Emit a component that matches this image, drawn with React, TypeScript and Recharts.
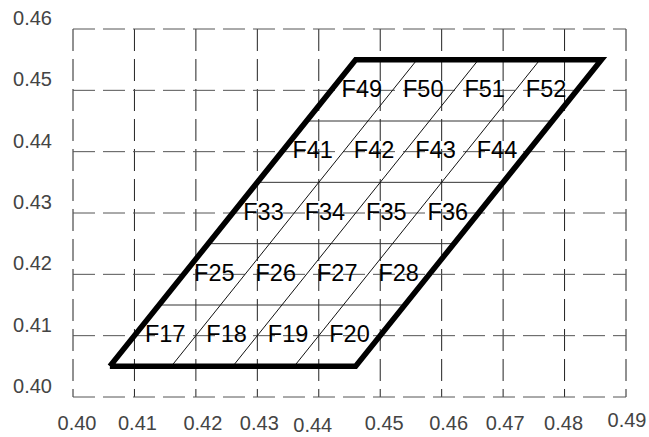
import React from "react";
import { CartesianGrid, ComposedChart, Line, Scatter, XAxis, YAxis } from "recharts";

const xTicks = [0.4, 0.41, 0.42, 0.43, 0.44, 0.45, 0.46, 0.47, 0.48, 0.49];
const yTicks = [0.4, 0.41, 0.42, 0.43, 0.44, 0.45, 0.46];

// mesh outline (closed)
const outline = [
  { x: 0.406, y: 0.405 },
  { x: 0.446, y: 0.405 },
  { x: 0.486, y: 0.455 },
  { x: 0.446, y: 0.455 },
  { x: 0.406, y: 0.405 },
];

// inner row lines: y level, left end, right end
const rowY = [0.415, 0.425, 0.435, 0.445];
const rowLeft = [0.414, 0.422, 0.43, 0.438];
const rowRight = [0.454, 0.462, 0.47, 0.478];

// inner slanted lines: bottom x, top x
const slantBottom = [0.416, 0.426, 0.436];
const slantTop = [0.456, 0.466, 0.476];

const cellLabels = [
  { name: "F17", x: 0.415, y: 0.41 },
  { name: "F18", x: 0.425, y: 0.41 },
  { name: "F19", x: 0.435, y: 0.41 },
  { name: "F20", x: 0.445, y: 0.41 },
  { name: "F25", x: 0.423, y: 0.42 },
  { name: "F26", x: 0.433, y: 0.42 },
  { name: "F27", x: 0.443, y: 0.42 },
  { name: "F28", x: 0.453, y: 0.42 },
  { name: "F33", x: 0.431, y: 0.43 },
  { name: "F34", x: 0.441, y: 0.43 },
  { name: "F35", x: 0.451, y: 0.43 },
  { name: "F36", x: 0.461, y: 0.43 },
  { name: "F41", x: 0.439, y: 0.44 },
  { name: "F42", x: 0.449, y: 0.44 },
  { name: "F43", x: 0.459, y: 0.44 },
  { name: "F44", x: 0.469, y: 0.44 },
  { name: "F49", x: 0.447, y: 0.45 },
  { name: "F50", x: 0.457, y: 0.45 },
  { name: "F51", x: 0.467, y: 0.45 },
  { name: "F52", x: 0.477, y: 0.45 },
];

// the x tick labels in the original sit a little off their grid lines
const xLabelNudge: Record<string, [number, number]> = {
  "0.40": [4, 0],
  "0.41": [3, 0],
  "0.42": [7, 0],
  "0.43": [2, 0],
  "0.44": [-6, 2],
  "0.45": [4, 0],
  "0.46": [7, 0],
  "0.47": [2, 0],
  "0.48": [-1, 0],
  "0.49": [1, -3],
};

const font = "'Liberation Sans', Arial, sans-serif";

function XTick(props: any) {
  const { x, y, payload } = props;
  const label = Number(payload.value).toFixed(2);
  const [dx, dy] = xLabelNudge[label] ?? [0, 0];
  return (
    <text x={x + dx} y={y + 33 + dy} textAnchor="middle" fontSize={20} fontFamily={font} fill="#444">
      {label}
    </text>
  );
}

function YTick(props: any) {
  const { x, y, payload } = props;
  return (
    <text x={x - 21} y={y - 4} textAnchor="end" fontSize={20} fontFamily={font} fill="#444">
      {Number(payload.value).toFixed(2)}
    </text>
  );
}

function CellLabel(props: any) {
  const { cx, cy, payload } = props;
  return (
    <text x={cx} y={cy + 6.5} textAnchor="middle" fontSize={23.5} fontFamily={font} fill="#000">
      {payload.name}
    </text>
  );
}

export default function App() {
  return (
    <div style={{ position: "absolute", left: 0, top: 0, background: "#fff" }}>
      <ComposedChart width={649} height={437} margin={{ top: 29, right: 23, bottom: 0, left: 0 }}>
        <CartesianGrid horizontal={false} stroke="#222" strokeDasharray="22 8" />
        <CartesianGrid vertical={false} stroke="#555" strokeDasharray="22 8" />
        <XAxis
          dataKey="x"
          type="number"
          domain={[0.4, 0.49]}
          ticks={xTicks}
          axisLine={false}
          tickLine={false}
          tickSize={0}
          tickMargin={0}
          height={40}
          tick={<XTick />}
          interval={0}
        />
        <YAxis
          dataKey="y"
          type="number"
          domain={[0.4, 0.46]}
          ticks={yTicks}
          axisLine={false}
          tickLine={false}
          tickSize={0}
          tickMargin={0}
          width={73}
          tick={<YTick />}
          interval={0}
        />
        {rowY.map((yv, i) => (
          <Line
            key={`row-${i}`}
            data={[
              { x: rowLeft[i], y: yv },
              { x: rowRight[i], y: yv },
            ]}
            dataKey="y"
            type="linear"
            stroke="#333"
            strokeWidth={1}
            dot={false}
            activeDot={false}
            isAnimationActive={false}
          />
        ))}
        {slantBottom.map((xb, i) => (
          <Line
            key={`slant-${i}`}
            data={[
              { x: xb, y: 0.405 },
              { x: slantTop[i], y: 0.455 },
            ]}
            dataKey="y"
            type="linear"
            stroke="#111"
            strokeWidth={1}
            dot={false}
            activeDot={false}
            isAnimationActive={false}
          />
        ))}
        <Line
          data={outline}
          dataKey="y"
          type="linear"
          stroke="#000"
          strokeWidth={5.5}
          strokeLinejoin="miter"
          dot={false}
          activeDot={false}
          isAnimationActive={false}
        />
        <Scatter data={cellLabels} dataKey="y" shape={<CellLabel />} isAnimationActive={false} />
      </ComposedChart>
    </div>
  );
}
